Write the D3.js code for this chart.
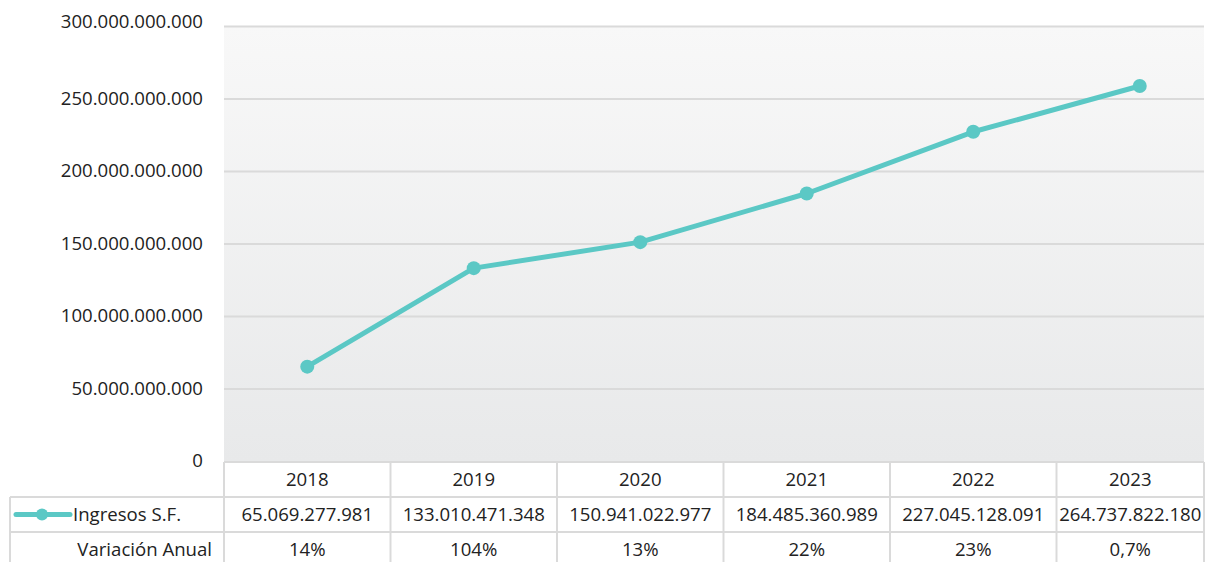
<!DOCTYPE html>
<html>
<head>
<meta charset="utf-8">
<script src="https://cdn.jsdelivr.net/npm/d3@7"></script>
<style>
  body { margin: 0; background: #fff; }
  text { font-family: "Open Sans", "Noto Sans", sans-serif; fill: #222; }
</style>
</head>
<body>
<div class="chart"></div>
<script>
// data ------
const years = ["2018", "2019", "2020", "2021", "2022", "2023"];
const ingresos = [65069277981, 133010471348, 150941022977, 184485360989, 227045128091, 258600000000];
const ingresosLabels = ["65.069.277.981", "133.010.471.348", "150.941.022.977", "184.485.360.989", "227.045.128.091", "264.737.822.180"];
const variacion = ["14%", "104%", "13%", "22%", "23%", "0,7%"];
const yTicks = [0, 50e9, 100e9, 150e9, 200e9, 250e9, 300e9];

const W = 1206, H = 562;
const plot = {left: 224, right: 1204, top: 26, bottom: 461};
const rowH = 35;
const fs = 18.6;
const color = "#5bc8c5";
const gridColor = "#dadada";

const svg = d3.select(".chart").append("svg")
    .attr("width", W)
    .attr("height", H);

const defs = svg.append("defs");
const grad = defs.append("linearGradient")
    .attr("id", "bg")
    .attr("x1", 0).attr("y1", 0).attr("x2", 0).attr("y2", 1);
grad.append("stop").attr("offset", "0%").attr("stop-color", "#f8f8f8");
grad.append("stop").attr("offset", "100%").attr("stop-color", "#e8e9ea");

// band scale is wider than the visible area (last column is cut at the edge)
const xScale = d3.scaleBand()
    .domain(years)
    .range([plot.left, plot.left + 6 * 166.5]);

const yScale = d3.scaleLinear()
    .domain([0, 300e9])
    .range([plot.bottom, plot.top]);

svg.append("rect")
    .attr("x", plot.left)
    .attr("y", plot.top)
    .attr("width", plot.right - plot.left)
    .attr("height", plot.bottom - plot.top)
    .attr("fill", "url(#bg)");

// y axis
const fmt = d => d3.format(",")(d).replace(/,/g, ".");
const yAxis = d3.axisLeft(yScale)
    .tickValues(yTicks)
    .tickFormat(fmt)
    .tickSize(-(plot.right - plot.left))
    .tickPadding(21);

svg.append("g")
    .attr("class", "axis y-axis")
    .attr("transform", `translate(${plot.left},0)`)
    .call(yAxis)
    .call(g => g.select(".domain").remove())
    .call(g => g.selectAll(".tick line")
        .attr("stroke", gridColor)
        .attr("stroke-width", 2)
        .attr("display", d => d === 0 ? "none" : null))
    .call(g => g.selectAll(".tick text")
        .attr("font-size", fs)
        .attr("fill", "#222")
        .attr("dy", d => d === 300e9 ? "0.1em" : "0.3em"));

// line + points
const line = d3.line()
    .x((d, i) => xScale(years[i]) + xScale.bandwidth() / 2)
    .y(d => yScale(d));

svg.append("path")
    .datum(ingresos)
    .attr("d", line)
    .attr("fill", "none")
    .attr("stroke", color)
    .attr("stroke-width", 5)
    .attr("stroke-linejoin", "round");

svg.selectAll(".dot")
    .data(ingresos)
    .enter()
    .append("circle")
    .attr("class", "dot")
    .attr("cx", (d, i) => xScale(years[i]) + xScale.bandwidth() / 2)
    .attr("cy", d => yScale(d))
    .attr("r", 7)
    .attr("fill", color);

// data table
const table = svg.append("g").attr("class", "table");
const t0 = plot.bottom + 1;
const cellMid = y => {
  const x0 = xScale(y), x1 = Math.min(x0 + xScale.bandwidth(), plot.right);
  return (x0 + x1) / 2;
};

const lines = [
  [plot.left, t0, plot.right, t0],
  [10, t0 + rowH, plot.right, t0 + rowH],
  [10, t0 + 2 * rowH, plot.right, t0 + 2 * rowH],
  [10, t0 + rowH, 10, H],
  [plot.right, t0, plot.right, H]
];
years.forEach(y => lines.push([xScale(y), t0, xScale(y), H]));

table.selectAll("line")
    .data(lines)
    .enter()
    .append("line")
    .attr("x1", d => d[0]).attr("y1", d => d[1])
    .attr("x2", d => d[2]).attr("y2", d => d[3])
    .attr("stroke", gridColor)
    .attr("stroke-width", 2);

const rows = [years, ingresosLabels, variacion];
rows.forEach((row, r) => {
  table.selectAll(".row" + r)
      .data(row)
      .enter()
      .append("text")
      .attr("class", "row" + r)
      .attr("x", (d, i) => cellMid(years[i]))
      .attr("y", t0 + r * rowH + rowH / 2)
      .attr("dy", "0.33em")
      .attr("text-anchor", "middle")
      .attr("font-size", fs)
      .text(d => d);
});

// row headers
const ly = t0 + rowH + rowH / 2;
table.append("line")
    .attr("x1", 16).attr("x2", 70)
    .attr("y1", ly).attr("y2", ly)
    .attr("stroke", color)
    .attr("stroke-width", 5)
    .attr("stroke-linecap", "round");
table.append("circle")
    .attr("cx", 42).attr("cy", ly)
    .attr("r", 6)
    .attr("fill", color);
table.append("text")
    .attr("x", 73).attr("y", ly)
    .attr("dy", "0.33em")
    .attr("font-size", fs)
    .text("Ingresos S.F.");
table.append("text")
    .attr("x", 212).attr("y", t0 + 2 * rowH + rowH / 2)
    .attr("dy", "0.33em")
    .attr("text-anchor", "end")
    .attr("font-size", fs)
    .text("Variación Anual");
</script>
</body>
</html>
